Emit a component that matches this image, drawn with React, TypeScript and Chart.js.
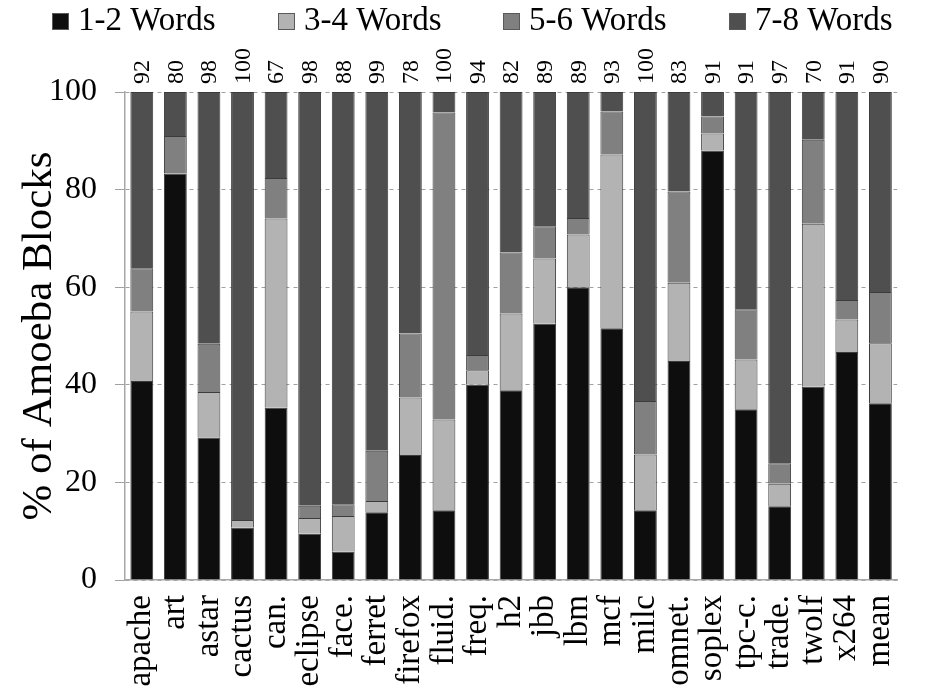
import React, { useEffect, useRef } from "react";
import { Chart, registerables } from "chart.js";

Chart.register(...registerables);

const categories = [
  "apache", "art", "astar", "cactus", "can.", "eclipse", "face.", "ferret",
  "firefox", "fluid.", "freq.", "h2", "jbb", "lbm", "mcf", "milc", "omnet.",
  "soplex", "tpc-c.", "trade.", "twolf", "x264", "mean",
];

const words12 = [40.8, 83.3, 29.2, 10.7, 35.3, 9.5, 5.8, 13.9, 25.6, 14.3, 40.0, 38.9, 52.5, 60.0, 51.6, 14.3, 44.9, 88.0, 35.0, 15.1, 39.6, 46.7, 36.2];
const words34 = [14.2, 0, 9.3, 1.6, 38.8, 3.2, 7.3, 2.3, 11.8, 18.6, 3.0, 15.7, 13.4, 10.8, 35.6, 11.4, 16.0, 3.5, 10.2, 4.6, 33.4, 6.7, 12.3];
const words56 = [8.9, 7.7, 9.9, 0, 8.3, 2.5, 2.4, 10.3, 13.1, 62.9, 3.1, 12.5, 6.6, 3.4, 8.8, 11.0, 18.7, 3.5, 10.3, 4.2, 17.2, 4.0, 10.5];
const words78 = [36.1, 9.0, 51.6, 87.7, 17.6, 84.8, 84.5, 73.5, 49.5, 4.2, 53.9, 32.9, 27.5, 25.8, 4.0, 63.3, 20.4, 5.0, 44.5, 76.1, 9.8, 42.6, 41.0];

const topLabels = ["92", "80", "98", "100", "67", "98", "88", "99", "78", "100", "94", "82", "89", "89", "93", "100", "83", "91", "91", "97", "70", "91", "90"];

const seriesLabels = ["1-2 Words", "3-4 Words", "5-6 Words", "7-8 Words"];
const yTicks = [0, 20, 40, 60, 80, 100];

const FONT = '"Liberation Serif", "Times New Roman", Times, serif';
const COLORS = ["#0e0e0e", "#b3b3b3", "#808080", "#4f4f4f"];

const overlayPlugin = {
  id: "overlay",
  afterDraw(chart: any) {
    const { ctx, chartArea } = chart;
    const x = chart.scales.x;
    ctx.save();
    ctx.fillStyle = "#000";
    ctx.font = `24px ${FONT}`;
    ctx.textAlign = "left";
    ctx.textBaseline = "middle";
    topLabels.forEach((t, i) => {
      const px = x.getPixelForValue(i);
      ctx.save();
      ctx.translate(px + 1, chartArea.top - 8);
      ctx.rotate(-Math.PI / 2);
      ctx.fillText(t, 0, 0);
      ctx.restore();
    });

    ctx.font = `33px ${FONT}`;
    chart.data.datasets.forEach((ds: any, i: number) => {
      const lx = Math.round(52 + i * 225.7);
      ctx.fillStyle = ds.backgroundColor;
      ctx.fillRect(lx, 13, 17, 17);
      ctx.strokeStyle = "#5a5a5a";
      ctx.lineWidth = 1;
      ctx.strokeRect(lx + 0.5, 13.5, 16, 16);
      ctx.fillStyle = "#000";
      ctx.fillText(ds.label, lx + 26, 21);
    });
    ctx.restore();
  },
};

export default function App() {
  const ref = useRef<HTMLCanvasElement | null>(null);

  useEffect(() => {
    if (!ref.current) return;
    Chart.defaults.font.family = FONT;
    Chart.defaults.color = "#000";
    const series = [words12, words34, words56, words78];
    const chart = new Chart(ref.current, {
      type: "bar",
      data: {
        labels: categories,
        datasets: series.map((d, i) => ({
          label: seriesLabels[i],
          data: d,
          backgroundColor: COLORS[i],
          borderColor: "#3c3c3c",
          borderWidth: 1,
          barPercentage: 0.68,
          categoryPercentage: 1,
        })),
      },
      options: {
        responsive: false,
        animation: false,
        layout: { padding: { top: 92, left: 0, right: 0, bottom: 0 } },
        plugins: {
          legend: { display: false },
          tooltip: { enabled: false },
        },
        scales: {
          x: {
            stacked: true,
            grid: { display: false, drawTicks: false },
            border: { display: true, color: "#a8a8a8", width: 1.5 },
            ticks: {
              autoSkip: false,
              minRotation: 90,
              maxRotation: 90,
              padding: 15,
              font: { size: 33, family: FONT },
              color: "#000",
            },
            afterFit: (s: any) => {
              s.height = 111;
            },
          },
          y: {
            stacked: true,
            min: 0,
            max: 100,
            afterBuildTicks: (s: any) => {
              s.ticks = yTicks.map((v) => ({ value: v }));
            },
            grid: {
              color: "#a0a0a0",
              lineWidth: 1,
              tickLength: 10,
              tickBorderDash: [],
              tickColor: "#a0a0a0",
            },
            border: { display: true, color: "#a8a8a8", width: 1.5, dash: [4, 4] },
            ticks: {
              padding: 18,
              font: { size: 32, family: FONT },
              color: "#000",
            },
            title: {
              display: true,
              text: "% of Amoeba Blocks",
              font: { size: 43, family: FONT },
              color: "#000",
              padding: { top: 14, bottom: 0 },
            },
            afterFit: (s: any) => {
              s.width = 125;
            },
          },
        },
      },
      plugins: [overlayPlugin],
    });
    let alive = true;
    if ((document as any).fonts && (document as any).fonts.load) {
      Promise.all([
        (document as any).fonts.load('32px "Liberation Serif"'),
      ]).then(() => {
        if (alive) chart.update();
      }).catch(() => {});
    }
    return () => {
      alive = false;
      chart.destroy();
    };
  }, []);

  return (
    <canvas
      ref={ref}
      width={935}
      height={691}
      style={{ position: "absolute", left: 0, top: 0, width: 935, height: 691 }}
    />
  );
}
